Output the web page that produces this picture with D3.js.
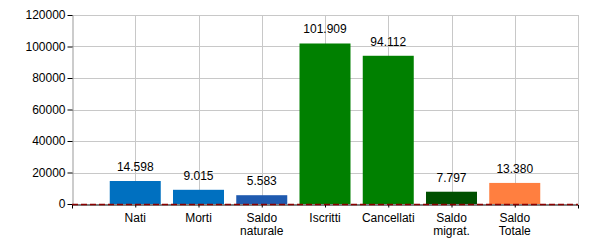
<!DOCTYPE html>
<html>
<head>
<meta charset="utf-8">
<script src="https://cdn.jsdelivr.net/npm/d3@7"></script>
<style>
  body { margin: 0; background: #fff; }
  text { font-family: "Liberation Sans", Arial, sans-serif; }
</style>
</head>
<body>
<svg id="chart"></svg>
<script>
// dati bilancio demografico
const categories = ["Nati", "Morti", "Saldo\nnaturale", "Iscritti", "Cancellati", "Saldo\nmigrat.", "Saldo\nTotale"];
const values = [14598, 9015, 5583, 101909, 94112, 7797, 13380];
const colors = ["#0070c0", "#0070c0", "#1f5aaf", "#008000", "#008000", "#005000", "#ff7f40"];
const yTicks = [0, 20000, 40000, 60000, 80000, 100000, 120000];

const width = 600, height = 250;
const margin = { top: 15, right: 22, bottom: 46, left: 72 };
const svg = d3.select("#chart").attr("width", width).attr("height", height);

const x = d3.scalePoint()
    .domain(categories)
    .range([margin.left, width - margin.right])
    .padding(1);

const y = d3.scaleLinear()
    .domain([0, 120000])
    .range([height - margin.bottom, margin.top]);

const fmt = d3.formatLocale({ decimal: ",", thousands: ".", grouping: [3], currency: ["€", ""] }).format(",");

// griglia
const grid = svg.append("g").attr("stroke", "#c8c8c8").attr("stroke-width", 1);
grid.selectAll(".h").data(yTicks.slice(1)).enter().append("line")
    .attr("x1", margin.left).attr("x2", width - margin.right)
    .attr("y1", d => Math.round(y(d)) + 0.5).attr("y2", d => Math.round(y(d)) + 0.5);
grid.selectAll(".v").data(categories).enter().append("line")
    .attr("x1", d => Math.round(x(d)) + 0.5).attr("x2", d => Math.round(x(d)) + 0.5)
    .attr("y1", margin.top).attr("y2", height - margin.bottom);
grid.append("line")
    .attr("x1", width - margin.right + 0.5).attr("x2", width - margin.right + 0.5)
    .attr("y1", margin.top).attr("y2", height - margin.bottom);

// barre
const barW = 51;
svg.append("g").selectAll("rect").data(values).enter().append("rect")
    .attr("x", (d, i) => x(categories[i]) - barW / 2)
    .attr("width", barW)
    .attr("y", d => y(d))
    .attr("height", d => y(0) - y(d))
    .attr("fill", (d, i) => colors[i]);

// etichette valori
svg.append("g").selectAll("text").data(values).enter().append("text")
    .attr("x", (d, i) => x(categories[i]))
    .attr("y", d => y(d) - 10)
    .attr("text-anchor", "middle")
    .attr("font-size", 12)
    .attr("fill", "#000")
    .text(d => fmt(d));

// asse y
const yAxis = svg.append("g")
    .attr("transform", `translate(${margin.left + 0.5},0)`)
    .call(d3.axisLeft(y).tickValues(yTicks).tickSize(5).tickSizeOuter(0).tickFormat(d3.format("d")));
yAxis.select(".domain").attr("stroke", "#999");
yAxis.selectAll(".tick line").attr("stroke", "#000");
yAxis.selectAll(".tick text").attr("font-size", 12).attr("fill", "#000")
    .attr("font-family", "'Liberation Sans', Arial, sans-serif").attr("x", -7);

// asse x
const xAxis = svg.append("g")
    .attr("transform", `translate(0,${Math.round(y(0)) + 0.5})`)
    .call(d3.axisBottom(x).tickSize(3).tickSizeOuter(4).tickFormat(""));
xAxis.select(".domain").attr("stroke", "#000");
xAxis.selectAll(".tick line").attr("stroke", "#000");

xAxis.selectAll(".lbl").data(categories).enter().append("text")
    .attr("x", d => x(d))
    .attr("y", 17)
    .attr("text-anchor", "middle")
    .attr("font-size", 12)
    .attr("fill", "#000")
    .selectAll("tspan").data(d => d.split("\n")).enter().append("tspan")
    .attr("x", function () { return d3.select(this.parentNode).attr("x"); })
    .attr("dy", (d, i) => i === 0 ? 0 : 13)
    .text(d => d);

// linea zero tratteggiata
svg.append("line")
    .attr("x1", margin.left).attr("x2", width - margin.right)
    .attr("y1", Math.round(y(0)) + 0.5).attr("y2", Math.round(y(0)) + 0.5)
    .attr("stroke", "#8b0000").attr("stroke-width", 1.5)
    .attr("stroke-dasharray", "6,3");
</script>
</body>
</html>
